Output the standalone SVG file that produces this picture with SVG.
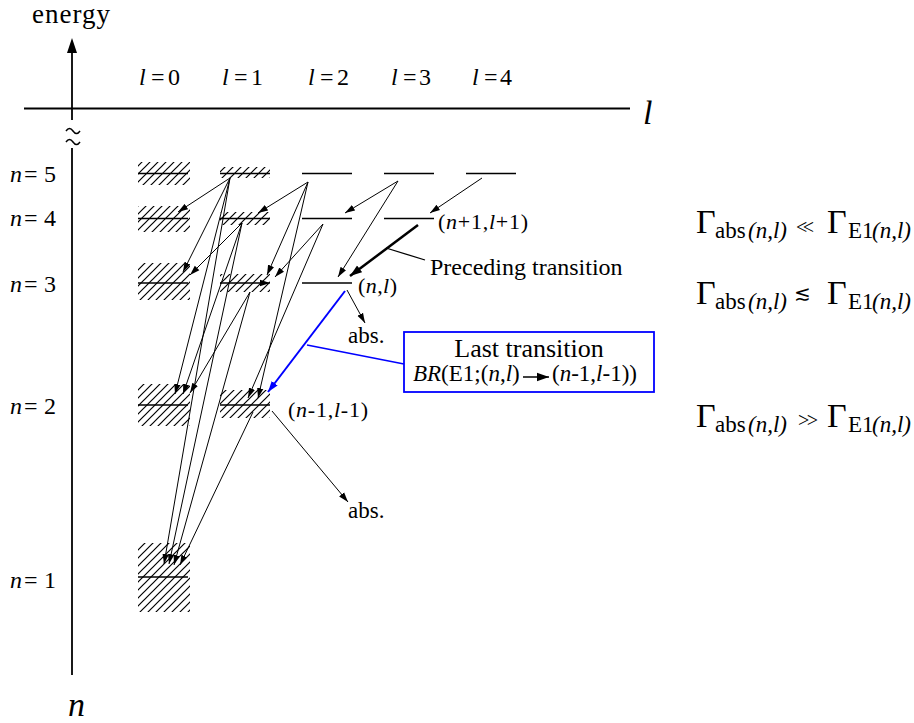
<svg xmlns="http://www.w3.org/2000/svg" width="914" height="723" viewBox="0 0 914 723" font-family="'Liberation Serif','Times New Roman',serif">
<style>
.t{font-family:"Liberation Serif","Times New Roman",serif;fill:#000}
.i{font-style:italic}
.lv{stroke:#000;stroke-width:1.6;fill:none}
.h{fill:url(#hatch)}
</style>
<defs>
<pattern id="hatch" patternUnits="userSpaceOnUse" width="8" height="8">
<path d="M-1,9 L9,-1 M-1,1 L1,-1 M7,9 L9,7" stroke="#000" stroke-width="1.2"/>
</pattern>
<marker id="ah" markerUnits="userSpaceOnUse" markerWidth="12" markerHeight="8" refX="10" refY="4" orient="auto">
<path d="M0,0.8 L10,4 L0,7.2 z" fill="#000"/>
</marker>
<marker id="ahb" markerUnits="userSpaceOnUse" markerWidth="13" markerHeight="9" refX="11" refY="4.5" orient="auto">
<path d="M0,0.8 L11,4.5 L0,8.2 z" fill="#0000ff"/>
</marker>
<marker id="ahk" markerUnits="userSpaceOnUse" markerWidth="14" markerHeight="10" refX="12" refY="5" orient="auto">
<path d="M0,0.8 L12,5 L0,9.2 z" fill="#000"/>
</marker>
</defs>
<rect width="914" height="723" fill="#fff"/>

<g id="axes">
<line x1="72" y1="50" x2="72" y2="120" stroke="#000" stroke-width="1.8"/>
<polygon points="72,38 67,53 77,53" fill="#000"/>
<path d="M66,131 q3.5,-5 7,0 t7,0" stroke="#000" stroke-width="1.5" fill="none"/>
<path d="M66,142 q3.5,-5 7,0 t7,0" stroke="#000" stroke-width="1.5" fill="none"/>
<line x1="72" y1="148" x2="72" y2="675" stroke="#000" stroke-width="1.8"/>
<line x1="24" y1="108.5" x2="630" y2="108.5" stroke="#000" stroke-width="1.8"/>
<text class="t" x="32" y="23" font-size="27" textLength="78">energy</text>
<text class="t i" x="643" y="124" font-size="34">l</text>
<text class="t i" x="68" y="716" font-size="34">n</text>
</g>

<g id="l-labels" class="t" font-size="24">
<text y="85"><tspan x="139" class="i">l</tspan><tspan x="151">=</tspan><tspan x="168">0</tspan></text>
<text y="85"><tspan x="222" class="i">l</tspan><tspan x="234">=</tspan><tspan x="251">1</tspan></text>
<text y="85"><tspan x="308" class="i">l</tspan><tspan x="320">=</tspan><tspan x="337">2</tspan></text>
<text y="85"><tspan x="391" class="i">l</tspan><tspan x="403">=</tspan><tspan x="419">3</tspan></text>
<text y="85"><tspan x="472" class="i">l</tspan><tspan x="484">=</tspan><tspan x="500">4</tspan></text>
</g>

<g id="n-labels" class="t" font-size="24">
<text y="182"><tspan x="10" class="i">n</tspan><tspan x="24">=</tspan><tspan x="44">5</tspan></text>
<text y="226"><tspan x="10" class="i">n</tspan><tspan x="24">=</tspan><tspan x="44">4</tspan></text>
<text y="292"><tspan x="10" class="i">n</tspan><tspan x="24">=</tspan><tspan x="44">3</tspan></text>
<text y="414"><tspan x="10" class="i">n</tspan><tspan x="24">=</tspan><tspan x="44">2</tspan></text>
<text y="588"><tspan x="10" class="i">n</tspan><tspan x="24">=</tspan><tspan x="44">1</tspan></text>
</g>

<g id="n5l0"><rect class="h" x="138" y="162" width="52" height="23"/><line class="lv" x1="138" y1="173.5" x2="188" y2="173.5"/></g>
<g id="n4l0"><rect class="h" x="138" y="206" width="52" height="26"/><line class="lv" x1="138" y1="218.5" x2="188" y2="218.5"/></g>
<g id="n3l0"><rect class="h" x="138" y="263" width="52" height="37"/><line class="lv" x1="138" y1="283" x2="188" y2="283"/></g>
<g id="n2l0"><rect class="h" x="138" y="384" width="52" height="42"/><line class="lv" x1="138" y1="405" x2="188" y2="405"/></g>
<g id="n1l0"><rect class="h" x="138" y="543" width="52" height="69"/><line class="lv" x1="138" y1="577" x2="188" y2="577"/></g>

<g id="n5l1"><rect class="h" x="220" y="167" width="50" height="11"/><line class="lv" x1="220" y1="173.5" x2="270" y2="173.5"/></g>
<g id="n4l1"><rect class="h" x="220" y="212" width="50" height="13"/><line class="lv" x1="220" y1="218.5" x2="270" y2="218.5"/></g>
<g id="n3l1"><rect class="h" x="220" y="274" width="50" height="18"/><line class="lv" x1="220" y1="283" x2="262" y2="283"/><line x1="260" y1="283" x2="270" y2="283" stroke="#000" stroke-width="1" marker-end="url(#ah)"/></g>
<g id="n2l1"><rect class="h" x="220" y="390" width="50" height="28"/><line class="lv" x1="220" y1="405" x2="270" y2="405"/></g>

<g id="n5l2"><line class="lv" x1="302" y1="173.5" x2="352" y2="173.5"/></g>
<g id="n4l2"><line class="lv" x1="302" y1="218.5" x2="352" y2="218.5"/></g>
<g id="n3l2"><line class="lv" x1="302" y1="283" x2="352" y2="283"/>
<text class="t" x="358" y="293" font-size="22" textLength="39">(<tspan class="i">n</tspan>,<tspan class="i">l</tspan>)</text></g>
<g id="n5l3"><line class="lv" x1="384" y1="173.5" x2="434" y2="173.5"/></g>
<g id="n4l3"><line class="lv" x1="384" y1="218.5" x2="434" y2="218.5"/>
<text class="t" x="438" y="229" font-size="22" textLength="90">(<tspan class="i">n</tspan>+1,<tspan class="i">l</tspan>+1)</text></g>
<g id="n5l4"><line class="lv" x1="466" y1="173.5" x2="516" y2="173.5"/></g>
<g id="n2l1-label"><text class="t" x="288" y="417" font-size="22" textLength="80">(<tspan class="i">n</tspan>-1,<tspan class="i">l</tspan>-1)</text></g>

<g id="connectors" stroke="#000" stroke-width="1" fill="none" marker-end="url(#ah)">
<line x1="230" y1="178" x2="178" y2="212"/>
<line x1="230" y1="178" x2="183" y2="272"/>
<line x1="230" y1="178" x2="175" y2="394"/>
<line x1="230" y1="178" x2="164" y2="564"/>
<line x1="242" y1="223" x2="190" y2="275"/>
<line x1="242" y1="223" x2="183" y2="394"/>
<line x1="242" y1="223" x2="169" y2="564"/>
<line x1="250" y1="292" x2="190" y2="393"/>
<line x1="250" y1="292" x2="174" y2="565"/>
<line x1="253" y1="412" x2="180" y2="565"/>
<line x1="308" y1="182" x2="258" y2="213"/>
<line x1="308" y1="182" x2="267" y2="275"/>
<line x1="308" y1="182" x2="258" y2="398"/>
<line x1="323" y1="224" x2="275" y2="277"/>
<line x1="323" y1="224" x2="248" y2="398"/>
<line x1="398" y1="181" x2="345" y2="213"/>
<line x1="398" y1="181" x2="338" y2="277"/>
<line x1="482" y1="178" x2="430" y2="213"/>
<line x1="347" y1="290" x2="365" y2="323"/>
<line x1="272" y1="411" x2="348" y2="502"/>
<line x1="418" y1="225" x2="350" y2="276" stroke-width="2.5" marker-end="url(#ahk)"/>
<line x1="386" y1="248" x2="425" y2="260" stroke-width="1.3" marker-end="none"/>
<line x1="345" y1="291" x2="268" y2="392" stroke="#0000ff" stroke-width="2" marker-end="url(#ahb)"/>
<line x1="307" y1="345" x2="404" y2="364" stroke="#0000ff" stroke-width="1.5" marker-end="none"/>
</g>

<g id="labels" class="t">
<text x="430" y="275" font-size="24">Preceding transition</text>
<text x="348" y="343" font-size="23">abs.</text>
<text x="348" y="518" font-size="23">abs.</text>
</g>

<g id="last-transition">
<rect x="404" y="332" width="250" height="60" fill="#fff" stroke="#0000ff" stroke-width="1.8"/>
<text class="t" x="529" y="357" font-size="26" text-anchor="middle">Last transition</text>
<text class="t" x="413" y="381" font-size="23"><tspan class="i">BR</tspan>(E1;(<tspan class="i">n</tspan>,<tspan class="i">l</tspan>)</text>
<line x1="523" y1="377" x2="549" y2="377" stroke="#000" stroke-width="1.5" marker-end="url(#ahk)"/>
<text class="t" x="552" y="381" font-size="23">(<tspan class="i">n</tspan>-1,<tspan class="i">l</tspan>-1))</text>
</g>

<g id="gamma1" class="t">
<text x="696" y="233" font-size="34">Γ</text>
<text x="715" y="238" font-size="23">abs</text>
<text class="i" x="748" y="238" font-size="23">(n,l)</text>
<text x="796" y="234" font-size="20" textLength="18">&lt;&lt;</text>
<text x="827" y="233" font-size="34">Γ</text>
<text x="848" y="238" font-size="23">E1</text>
<text class="i" x="872" y="238" font-size="23">(n,l)</text>
</g>
<g id="gamma2" class="t">
<text x="696" y="304" font-size="34">Γ</text>
<text x="715" y="309" font-size="23">abs</text>
<text class="i" x="748" y="309" font-size="23">(n,l)</text>
<text x="794" y="300" font-size="20">≲</text>
<text x="827" y="304" font-size="34">Γ</text>
<text x="848" y="309" font-size="23">E1</text>
<text class="i" x="872" y="309" font-size="23">(n,l)</text>
</g>
<g id="gamma3" class="t">
<text x="696" y="427" font-size="34">Γ</text>
<text x="715" y="432" font-size="23">abs</text>
<text class="i" x="748" y="432" font-size="23">(n,l)</text>
<text x="798" y="427" font-size="20" textLength="20">&gt;&gt;</text>
<text x="827" y="427" font-size="34">Γ</text>
<text x="848" y="432" font-size="23">E1</text>
<text class="i" x="872" y="432" font-size="23">(n,l)</text>
</g>
</svg>
